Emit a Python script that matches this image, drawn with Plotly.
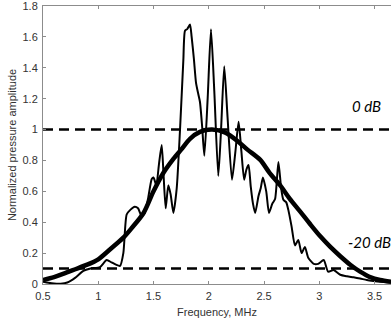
import plotly.graph_objects as go

# Measured spectrum (thin line)
freq_meas = [0.50, 0.55, 0.60, 0.66, 0.72, 0.79, 0.865, 0.93, 1.016, 1.076, 1.12, 1.16, 1.197,
             1.227, 1.257, 1.29, 1.33, 1.36, 1.393, 1.42, 1.45, 1.484, 1.50, 1.525, 1.55, 1.574,
             1.59, 1.61, 1.634, 1.655, 1.68, 1.71, 1.74, 1.77, 1.785, 1.805, 1.83, 1.845, 1.865,
             1.885, 1.905, 1.92, 1.94, 1.96, 1.99, 2.02, 2.05, 2.086, 2.11, 2.14, 2.17, 2.21,
             2.24, 2.27, 2.295, 2.32, 2.34, 2.36, 2.38, 2.40, 2.42, 2.45, 2.47, 2.49, 2.52,
             2.545, 2.575, 2.60, 2.63, 2.655, 2.675, 2.70, 2.72, 2.75, 2.78, 2.81, 2.84, 2.87,
             2.90, 2.95, 2.99, 3.04, 3.08, 3.13, 3.19, 3.25, 3.31, 3.37, 3.43, 3.49, 3.55, 3.65]
amp_meas = [0.015, 0.008, 0.003, 0.002, 0.01, 0.04, 0.085, 0.10, 0.11, 0.155, 0.14, 0.125, 0.117,
            0.20, 0.45, 0.48, 0.50, 0.49, 0.44, 0.46, 0.55, 0.68, 0.69, 0.64, 0.78, 0.90,
            0.72, 0.49, 0.64, 0.58, 0.46, 0.62, 1.00, 1.45, 1.64, 1.65, 1.68, 1.60, 1.46,
            1.30, 1.23, 1.18, 1.02, 0.83, 1.20, 1.65, 1.25, 0.70, 0.98, 1.41, 1.08, 0.675,
            0.85, 1.05, 0.86, 0.675, 0.74, 0.77, 0.63, 0.52, 0.46, 0.57, 0.62, 0.69, 0.60,
            0.46, 0.52, 0.55, 0.79, 0.62, 0.545, 0.53, 0.48, 0.37, 0.25, 0.285, 0.20, 0.24,
            0.17, 0.13, 0.13, 0.155, 0.08, 0.09, 0.06, 0.05, 0.043, 0.035, 0.026, 0.02, 0.015, 0.01]

# Fitted envelope (thick line)
freq_fit = [0.50, 0.60, 0.70, 0.77, 0.90, 1.00, 1.10, 1.227, 1.30, 1.41, 1.50, 1.59, 1.68, 1.75,
            1.83, 1.92, 2.03, 2.15, 2.27, 2.35, 2.464, 2.55, 2.645, 2.73, 2.826, 2.92, 3.007,
            3.10, 3.19, 3.28, 3.37, 3.46, 3.55, 3.65]
amp_fit = [0.026, 0.045, 0.07, 0.09, 0.125, 0.16, 0.22, 0.30, 0.36, 0.46, 0.60, 0.72, 0.81, 0.87,
           0.94, 0.985, 1.0, 0.98, 0.92, 0.87, 0.805, 0.72, 0.64, 0.555, 0.47, 0.385, 0.31,
           0.24, 0.18, 0.125, 0.08, 0.045, 0.026, 0.015]

ref_levels = [1.0, 0.1]
ref_labels = ["0 dB", "-20 dB"]
label_pos_x = [3.43, 3.45]
label_pos_y = [1.153, 0.272]

x_range = [0.5, 3.649]
y_range = [0, 1.8]
x_ticks = [0.5, 1, 1.5, 2, 2.5, 3, 3.5]
x_tick_text = ["0.5", "1", "1.5", "2", "2.5", "3", "3.5"]
y_ticks = [0, 0.2, 0.4, 0.6, 0.8, 1, 1.2, 1.4, 1.6, 1.8]
y_tick_text = ["0", "0.2", "0.4", "0.6", "0.8", "1", "1.2", "1.4", "1.6", "1.8"]

fig = go.Figure()

for lvl in ref_levels:
    fig.add_trace(go.Scatter(x=x_range, y=[lvl, lvl], mode="lines",
                             line=dict(color="black", width=2.5, dash="10px,6px"),
                             showlegend=False, hoverinfo="skip"))

fig.add_trace(go.Scatter(x=freq_meas, y=amp_meas, mode="lines",
                         line=dict(color="black", width=2, shape="spline", smoothing=0.6),
                         showlegend=False))
fig.add_trace(go.Scatter(x=freq_fit, y=amp_fit, mode="lines",
                         line=dict(color="black", width=4.5, shape="spline", smoothing=0.8),
                         showlegend=False))

for tx, px, py in zip(ref_labels, label_pos_x, label_pos_y):
    fig.add_annotation(x=px, y=py, text=tx, showarrow=False, xref="x", yref="y",
                       font=dict(family="Lato", size=15, color="black", style="italic"))

axis_col = "#8c8c8c"
fig.update_layout(
    width=391, height=322,
    margin=dict(l=43, r=0, t=6, b=38),
    paper_bgcolor="white", plot_bgcolor="white",
    font=dict(family="Liberation Sans, Arial", size=11, color="#333333"),
    xaxis=dict(range=x_range, tickvals=x_ticks, ticktext=x_tick_text,
               showgrid=False, zeroline=False, showline=True, linecolor=axis_col, linewidth=1,
               mirror="ticks", ticks="inside", ticklen=3, tickcolor=axis_col,
               ticklabeloverflow="allow", ticklabelstandoff=2,
               title=dict(text="Frequency, MHz", standoff=7, font=dict(size=11))),
    yaxis=dict(range=y_range, tickvals=y_ticks, ticktext=y_tick_text,
               showgrid=False, zeroline=False, showline=True, linecolor=axis_col, linewidth=1,
               ticks="inside", ticklen=3, tickcolor=axis_col,
               ticklabeloverflow="allow", ticklabelstandoff=2,
               title=dict(text="Normalized pressure amplitude", standoff=3, font=dict(size=11))),
)

fig.write_html("out.html", config={"displayModeBar": False},
               post_script="document.body.style.margin='0';")
